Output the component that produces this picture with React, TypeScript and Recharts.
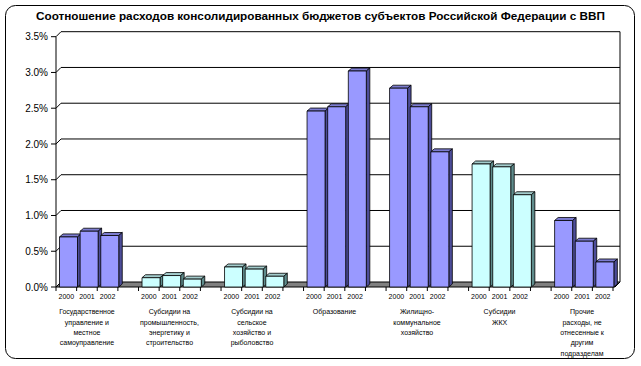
import { BarChart, Bar, XAxis, YAxis, CartesianGrid } from 'recharts';

// group captions, wrapped the way the original chart wraps them
const groupLines = [
  ['Государственное', 'управление и', 'местное', 'самоуправление'],
  ['Субсидии на', 'промышленность,', 'энергетику и', 'строительство'],
  ['Субсидии на', 'сельское', 'хозяйство и', 'рыболовство'],
  ['Образование'],
  ['Жилищно-', 'коммунальное', 'хозяйство'],
  ['Субсидии', 'ЖКХ'],
  ['Прочие', 'расходы, не', 'отнесенные к', 'другим', 'подразделам'],
];
const years = ['2000', '2001', '2002'];

// % of GDP
const share2000 = [0.7, 0.13, 0.28, 2.46, 2.78, 1.72, 0.93];
const share2001 = [0.78, 0.16, 0.25, 2.52, 2.52, 1.68, 0.64];
const share2002 = [0.72, 0.11, 0.15, 3.02, 1.89, 1.29, 0.35];

const yTicks = [0, 0.5, 1, 1.5, 2, 2.5, 3, 3.5];

const groupTone = ['blue', 'cyan', 'cyan', 'blue', 'blue', 'cyan', 'blue'];
const tones: Record<string, { front: string; top: string; side: string }> = {
  blue: { front: '#9999FF', top: '#7C7CD0', side: '#4D4D99' },
  cyan: { front: '#CCFFFF', top: '#A3CCCC', side: '#5F8C8C' },
};

const FONT = '"Liberation Sans", Arial, sans-serif';
const DEPTH = 5; // back wall offset

type Row = { key: string; year: string; group: number; pos: number; value: number | null };
const rows: Row[] = [];
groupLines.forEach((_, g) => {
  [share2000, share2001, share2002].forEach((series, i) => {
    rows.push({ key: `${g}-${years[i]}`, year: years[i], group: g, pos: i, value: series[g] });
  });
  if (g < groupLines.length - 1) rows.push({ key: `${g}-gap`, year: '', group: g, pos: -1, value: null });
});

function Box3D(props: any) {
  const { x, y, width, height, payload } = props;
  if (payload == null || payload.value == null) return null;
  const t = tones[groupTone[payload.group]];
  const fx = x + 3.5;
  const fw = width - 3;
  const dx = 3.5;
  const dy = 3;
  const b = y + height;
  return (
    <g stroke="#000" strokeWidth={0.8} strokeLinejoin="round">
      <polygon points={`${fx},${y} ${fx + dx},${y - dy} ${fx + fw + dx},${y - dy} ${fx + fw},${y}`} fill={t.top} />
      <polygon points={`${fx + fw},${y} ${fx + fw + dx},${y - dy} ${fx + fw + dx},${b - dy} ${fx + fw},${b}`} fill={t.side} />
      <rect x={fx} y={y} width={fw} height={height} fill={t.front} />
    </g>
  );
}

function WallLine(p: any) {
  const { x1, y1, x2, y, height } = p;
  const bottom = y + height;
  const right = x2 + 2 + DEPTH;
  if (Math.abs(y1 - bottom) < 0.5) {
    return (
      <polygon
        key={p.key}
        points={`${x1},${y1} ${x2 + 2},${y1} ${right},${y1 - DEPTH} ${x1 + DEPTH},${y1 - DEPTH}`}
        fill="#808080"
        stroke="#000"
        strokeWidth={1}
      />
    );
  }
  return (
    <g key={p.key} fill="none" stroke="#000" strokeWidth={1}>
      <path d={`M${x1},${y1} l${DEPTH},${-DEPTH} H${right}`} />
      {Math.abs(y1 - y) < 0.5 && <path d={`M${right},${y1 - DEPTH} V${bottom - DEPTH}`} />}
    </g>
  );
}

function YTick(props: any) {
  const { x, y, payload } = props;
  return (
    <g>
      <line x1={x - 5} x2={x} y1={y} y2={y} stroke="#000" />
      <text x={x - 8} y={y + 3.6} textAnchor="end" fontSize={10} fontFamily={FONT} fill="#000">
        {`${payload.value.toFixed(1)}%`}
      </text>
    </g>
  );
}

function CatTick(props: any) {
  const { x, y, payload } = props;
  const idx = payload.index ?? props.index;
  const row = rows[idx];
  const half = payload.offset || 10.3;
  return (
    <g fontFamily={FONT} fill="#000">
      <line x1={x - half} x2={x - half} y1={y} y2={y + 4} stroke="#000" />
      {idx === rows.length - 1 && <line x1={x + half} x2={x + half} y1={y} y2={y + 4} stroke="#000" />}
      {row && row.year && (
        <text x={x} y={y + 12.2} textAnchor="middle" fontSize={7}>
          {row.year}
        </text>
      )}
      {row && row.pos === 1 &&
        groupLines[row.group].map((line, i) => (
          <text key={i} x={x} y={y + 27.2 + i * 10.4} textAnchor="middle" fontSize={7}>
            {line}
          </text>
        ))}
    </g>
  );
}

export default function App() {
  return (
    <div style={{ position: 'absolute', left: 0, top: 0, width: 641, height: 366, background: '#fff' }}>
      <BarChart
        width={641}
        height={366}
        data={rows}
        margin={{ top: 36.7, right: 28, bottom: 0, left: 0 }}
        barCategoryGap={0}
        barGap={0}
      >
        <CartesianGrid vertical={false} horizontal={WallLine} />
        <XAxis
          dataKey="key"
          type="category"
          interval={0}
          height={79}
          axisLine={false}
          tickLine={false}
          tickSize={0}
          tickMargin={0}
          tick={<CatTick />}
        />
        <YAxis
          type="number"
          domain={[0, 3.5]}
          ticks={yTicks}
          width={56}
          axisLine={{ stroke: '#000' }}
          tickLine={false}
          tickSize={0}
          tickMargin={0}
          tick={<YTick />}
        />
        <Bar dataKey="value" isAnimationActive={false} shape={<Box3D />} />
      </BarChart>
      <svg width={641} height={366} style={{ position: 'absolute', left: 0, top: 0, pointerEvents: 'none' }}>
        <rect x={5.5} y={5.5} width={629} height={353} rx={10} fill="none" stroke="#000" />
        <text
          x={320.5}
          y={19.5}
          textAnchor="middle"
          fontSize={11.5}
          fontWeight="bold"
          fontFamily={FONT}
          textLength={569}
          lengthAdjust="spacingAndGlyphs"
        >
          Соотношение расходов консолидированных бюджетов субъектов Российской Федерации с ВВП
        </text>
      </svg>
    </div>
  );
}
